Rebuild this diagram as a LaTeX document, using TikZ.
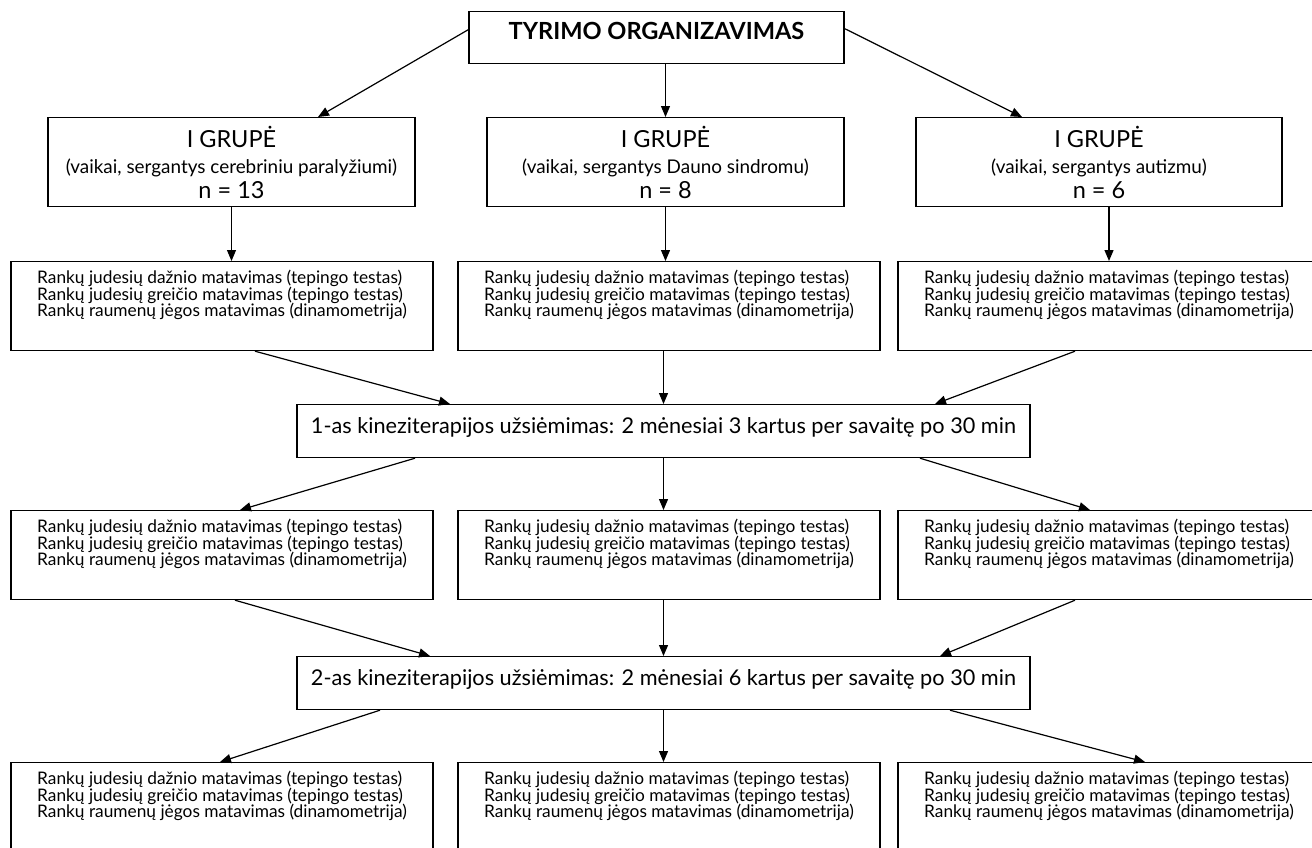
\documentclass[tikz,border=0pt]{standalone}
\usepackage{fontspec}
\setmainfont{Lato}
\usetikzlibrary{arrows.meta,positioning}

\tikzset{
  box/.style={draw, line width=1.2pt, inner sep=0pt},
  ttl/.style={box, anchor=north, minimum width=375pt, font=\bfseries\fontsize{23.6}{26}\selectfont},
  grp/.style={box, anchor=north, minimum width=#1, minimum height=89pt, align=center,
    font=\fontsize{23.5}{25.5}\selectfont},
  meas/.style={box, anchor=north, minimum width=422pt, minimum height=89pt, align=left,
    font=\fontsize{17.3}{16.5}\selectfont},
  kin/.style={box, anchor=north, minimum width=733pt, font=\fontsize{21.7}{24}\selectfont},
  arr/.style={-{Triangle[length=11pt,width=9pt]}, line width=1.2pt},
}

\newcommand{\matav}{\rule{0pt}{22pt}Rankų judesių dažnio matavimas (tepingo testas)\\
  Rankų judesių greičio matavimas (tepingo testas)\\
  Rankų raumenų jėgos matavimas (dinamometrija)\rule[-34pt]{0pt}{34pt}}
\newcommand{\grupe}[2]{\rule{0pt}{30pt}I GRUPĖ\\{\fontsize{18.9}{16}\selectfont (vaikai, sergantys #1)}\\n = #2\rule[-8pt]{0pt}{8pt}}

\begin{document}
\lineskiplimit=-20pt
\begin{tikzpicture}[x=1pt,y=-1pt]
\useasboundingbox (0,0) rectangle (1312,847);

  % top
  \node[ttl] (t) at (656.5,11) {\rule[-24pt]{0pt}{52pt}TYRIMO ORGANIZAVIMAS}; %

  % groups
  \node[grp=367pt] (g1) at (231.5,117) {\grupe{cerebriniu paralyžiumi}{13}}; %
  \node[grp=357pt] (g2) at (665.5,117) {\grupe{Dauno sindromu}{8}}; %
  \node[grp=366pt] (g3) at (1099,117)  {\grupe{autizmu}{6}}; %

  % measurements before
  \node[meas] (m1) at (222,261)  {\matav}; %
  \node[meas] (m2) at (669,261)  {\matav}; %
  \node[meas] (m3) at (1109,261) {\matav}; %

  % 1st program
  \node[kin] (k1) at (663.5,404) {\rule[-24pt]{0pt}{53pt}1-as kineziterapijos užsiėmimas: 2 mėnesiai 3 kartus per savaitę po 30 min}; %

  % measurements after 1st
  \node[meas] (m4) at (222,510)  {\matav}; %
  \node[meas] (m5) at (669,510)  {\matav}; %
  \node[meas] (m6) at (1109,510) {\matav}; %

  % 2nd program
  \node[kin] (k2) at (663.5,656) {\rule[-24pt]{0pt}{53pt}2-as kineziterapijos užsiėmimas: 2 mėnesiai 6 kartus per savaitę po 30 min}; %

  % measurements after 2nd
  \node[meas] (m7) at (222,762)  {\matav}; %
  \node[meas] (m8) at (669,762)  {\matav}; %
  \node[meas] (m9) at (1109,762) {\matav}; %

  % Edges
  \draw[arr] ([yshift=8pt]t.west) -- ([xshift=86.5pt]g1.north); %
  \draw[arr] (t.south -| g2.north) -- (g2.north); %
  \draw[arr] ([yshift=9pt]t.east) -- ([xshift=-77pt]g3.north); %

  \draw[arr] (g1.south) -- (g1.south |- m1.north); %
  \draw[arr] (g2.south) -- (g2.south |- m2.north); %
  \draw[arr] (m3.north |- g3.south) -- (m3.north); %

  \draw[arr] ([xshift=33pt]m1.south) -- ([xshift=-213.5pt]k1.north); %
  \draw[arr] (k1.north |- m2.south) -- (k1.north); %
  \draw[arr] ([xshift=-34pt]m3.south) -- ([xshift=271.5pt]k1.north); %

  \draw[arr] ([xshift=-248.5pt]k1.south) -- ([xshift=18pt]m4.north); %
  \draw[arr] (k1.south) -- (k1.south |- m5.north); %
  \draw[arr] ([xshift=256.5pt]k1.south) -- ([xshift=-19pt]m6.north); %

  \draw[arr] ([xshift=13pt]m4.south) -- ([xshift=-233.5pt]k2.north); %
  \draw[arr] (k2.north |- m5.south) -- (k2.north); %
  \draw[arr] ([xshift=-34pt]m6.south) -- ([xshift=276.5pt]k2.north); %

  \draw[arr] ([xshift=-283.5pt]k2.south) -- ([xshift=-2pt]m7.north); %
  \draw[arr] (k2.south) -- (k2.south |- m8.north); %
  \draw[arr] ([xshift=286.5pt]k2.south) -- ([xshift=36pt]m9.north); %

\end{tikzpicture}
\end{document}
